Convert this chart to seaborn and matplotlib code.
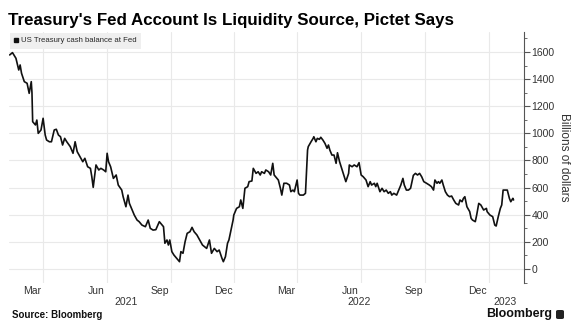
import matplotlib
matplotlib.use("Agg")
import matplotlib.pyplot as plt
import matplotlib.dates as mdates
from matplotlib.lines import Line2D
from matplotlib.patches import FancyBboxPatch
import matplotlib.transforms as mtransforms
import numpy as np
import pandas as pd
import seaborn as sns

# ---- data (US Treasury cash balance at Fed, billions of dollars) ----
dates = [
    "2021-01-12", "2021-01-16", "2021-01-18", "2021-01-21", "2021-01-25", "2021-01-27", "2021-01-29",
    "2021-02-02", "2021-02-06", "2021-02-09", "2021-02-12", "2021-02-13", "2021-02-14", "2021-02-18",
    "2021-02-20", "2021-02-22", "2021-02-26", "2021-03-01", "2021-03-04", "2021-03-06", "2021-03-10",
    "2021-03-13", "2021-03-17", "2021-03-20", "2021-03-23", "2021-03-26", "2021-03-29", "2021-04-01",
    "2021-04-04", "2021-04-09", "2021-04-13", "2021-04-16", "2021-04-19", "2021-04-23", "2021-04-27",
    "2021-04-30", "2021-05-04", "2021-05-08", "2021-05-10", "2021-05-12", "2021-05-16", "2021-05-20",
    "2021-05-23", "2021-05-27", "2021-05-30", "2021-06-01", "2021-06-03", "2021-06-06", "2021-06-10",
    "2021-06-14", "2021-06-17", "2021-06-22", "2021-06-24", "2021-06-28", "2021-07-01", "2021-07-03",
    "2021-07-06", "2021-07-10", "2021-07-14", "2021-07-17", "2021-07-21", "2021-07-26", "2021-07-30",
    "2021-08-02", "2021-08-06", "2021-08-10", "2021-08-15", "2021-08-19", "2021-08-21", "2021-08-23",
    "2021-08-26", "2021-08-28", "2021-08-30", "2021-09-02", "2021-09-05", "2021-09-09", "2021-09-13",
    "2021-09-15", "2021-09-18", "2021-09-21", "2021-09-24", "2021-09-28", "2021-10-01", "2021-10-04",
    "2021-10-08", "2021-10-12", "2021-10-16", "2021-10-22", "2021-10-26", "2021-10-29", "2021-11-02",
    "2021-11-06", "2021-11-09", "2021-11-13", "2021-11-15", "2021-11-18", "2021-11-21", "2021-11-23",
    "2021-11-26", "2021-11-29", "2021-11-30", "2021-12-04", "2021-12-08", "2021-12-10", "2021-12-13",
    "2021-12-16", "2021-12-20", "2021-12-22", "2021-12-26", "2021-12-28", "2022-01-01", "2022-01-04",
    "2022-01-07", "2022-01-09", "2022-01-13", "2022-01-15", "2022-01-19", "2022-01-22", "2022-01-25",
    "2022-01-27", "2022-01-31", "2022-02-02", "2022-02-05", "2022-02-07", "2022-02-10", "2022-02-14",
    "2022-02-18", "2022-02-20", "2022-02-23", "2022-02-25", "2022-03-01", "2022-03-03", "2022-03-05",
    "2022-03-10", "2022-03-13", "2022-03-16", "2022-03-17", "2022-03-21", "2022-03-24", "2022-03-25",
    "2022-03-28", "2022-03-30", "2022-04-02", "2022-04-04", "2022-04-07", "2022-04-10", "2022-04-13",
    "2022-04-15", "2022-04-17", "2022-04-20", "2022-04-23", "2022-04-26", "2022-04-28", "2022-05-01",
    "2022-05-04", "2022-05-07", "2022-05-10", "2022-05-14", "2022-05-15", "2022-05-19", "2022-05-22",
    "2022-05-26", "2022-05-29", "2022-06-01", "2022-06-04", "2022-06-08", "2022-06-11", "2022-06-14",
    "2022-06-16", "2022-06-20", "2022-06-22", "2022-06-24", "2022-06-28", "2022-07-01", "2022-07-04",
    "2022-07-07", "2022-07-10", "2022-07-13", "2022-07-15", "2022-07-18", "2022-07-22", "2022-07-24",
    "2022-07-28", "2022-07-31", "2022-08-02", "2022-08-05", "2022-08-08", "2022-08-11", "2022-08-15",
    "2022-08-18", "2022-08-21", "2022-08-24", "2022-08-27", "2022-08-30", "2022-09-03", "2022-09-07",
    "2022-09-10", "2022-09-13", "2022-09-15", "2022-09-18", "2022-09-20", "2022-09-22", "2022-09-25",
    "2022-09-27", "2022-09-30", "2022-10-03", "2022-10-06", "2022-10-09", "2022-10-12", "2022-10-15",
    "2022-10-19", "2022-10-21", "2022-10-24", "2022-10-26", "2022-10-28", "2022-10-31", "2022-11-04",
    "2022-11-06", "2022-11-08", "2022-11-12", "2022-11-14", "2022-11-17", "2022-11-20", "2022-11-24",
    "2022-11-28", "2022-11-29", "2022-12-03", "2022-12-07", "2022-12-10", "2022-12-12", "2022-12-15",
    "2022-12-18", "2022-12-20", "2022-12-22", "2022-12-25", "2022-12-28", "2022-12-31", "2023-01-02",
    "2023-01-05", "2023-01-06",
]
balance = [
    1578, 1595, 1578, 1553, 1467, 1504, 1443,
    1381, 1369, 1295, 1381, 1300, 1086, 1062,
    1098, 1000, 1025, 1111, 988, 951, 938,
    938, 1025, 1030, 988, 975, 914, 963,
    938, 902, 853, 938, 865, 828, 791,
    816, 754, 742, 680, 602, 767, 730,
    742, 730, 717, 853, 791, 754, 668,
    693, 619, 582, 533, 459, 545, 484,
    447, 398, 361, 349, 324, 312, 361,
    300, 287, 290, 349, 324, 312, 190,
    214, 177, 214, 128, 103, 79, 54,
    128, 116, 201, 263, 275, 307, 275,
    251, 214, 177, 152, 214, 116, 152,
    128, 140, 79, 54, 91, 190, 214,
    287, 361, 398, 447, 459, 509, 447,
    595, 607, 644, 649, 742, 705, 717,
    693, 717, 705, 730, 717, 693, 779,
    693, 668, 656, 595, 545, 632, 632,
    619, 570, 582, 570, 656, 558, 545,
    545, 558, 877, 902, 938, 963, 975,
    938, 963, 956, 971, 951, 926, 890,
    914, 877, 840, 840, 779, 857, 791,
    742, 693, 644, 705, 767, 754, 767,
    754, 784, 693, 680, 656, 607, 644,
    619, 632, 607, 632, 570, 595, 570,
    582, 558, 570, 545, 558, 545, 570,
    619, 668, 619, 582, 582, 595, 690,
    705, 693, 705, 680, 644, 632, 619,
    607, 582, 656, 632, 644, 632, 656,
    619, 570, 545, 533, 538, 509, 484,
    472, 509, 496, 521, 533, 459, 423,
    374, 361, 349, 398, 484, 472, 435,
    447, 423, 398, 386, 324, 317, 386,
    447, 472, 582, 582, 582, 521, 496,
    521, 509,
]
series_name = "US Treasury cash balance at Fed"
grid_months = ["2021-03-01", "2021-06-01", "2021-09-01", "2021-12-01",
               "2022-03-01", "2022-06-01", "2022-09-01", "2022-12-01"]
month_labels = ["Mar", "Jun", "Sep", "Dec", "Mar", "Jun", "Sep", "Dec"]
year_labels = ["2021", "2022", "2023"]
year_label_dates = ["2021-06-28", "2022-05-29", "2022-12-25"]
y_ticks = [0, 200, 400, 600, 800, 1000, 1200, 1400, 1600]

df = pd.DataFrame({"date": pd.to_datetime(dates), "value": balance})

# ---- style ----
sns.set_theme(style="white")
plt.rcParams["font.family"] = ["Liberation Sans", "DejaVu Sans"]

fig = plt.figure(figsize=(5.76, 3.33), dpi=100)
ax = fig.add_axes([9 / 576, 1 - 283 / 333, (524 - 9) / 576, (283 - 32) / 333])

sns.lineplot(data=df, x="date", y="value", ax=ax, color="#111111", linewidth=1.2, legend=False)

ax.set_xlim(pd.Timestamp("2021-01-11"), pd.Timestamp("2023-01-21"))
ax.set_ylim(-103, 1747)

# grid
grid_dates = pd.to_datetime(grid_months)
ax.set_xticks(mdates.date2num(grid_dates))
ax.set_xticklabels([])
ax.tick_params(axis="x", which="major", length=0)
label_dates = grid_dates - pd.Timedelta(days=16)
ax.set_xticks(mdates.date2num(label_dates), minor=True)
ax.set_xticklabels(month_labels, minor=True)
ax.tick_params(axis="x", which="minor", length=0, pad=2.5, labelsize=7.5, labelcolor="#333333")

ax.yaxis.tick_right()
ax.yaxis.set_label_position("right")
ax.set_yticks(y_ticks)
ax.set_yticks(np.arange(-100, 1701, 100), minor=True)
ax.tick_params(axis="y", which="major", length=4, width=0.8, color="#555555", pad=1.5,
               labelsize=7.5, labelcolor="#333333", right=True, left=False)
ax.tick_params(axis="y", which="minor", length=2, width=0.6, color="#555555", right=True, left=False)

ax.grid(True, which="major", axis="both", color="#e9e9e9", linewidth=0.8)
ax.set_axisbelow(True)

for s in ["left", "top", "bottom"]:
    ax.spines[s].set_visible(False)
ax.spines["right"].set_color("#555555")
ax.spines["right"].set_linewidth(0.8)

ax.set_xlabel("")
ax.set_ylabel("Billions of dollars", rotation=270, labelpad=11, fontsize=8.5, color="#333333")

# year labels
trans = mtransforms.blended_transform_factory(ax.transData, ax.transAxes)
for lab, d in zip(year_labels, year_label_dates):
    ax.text(mdates.date2num(pd.Timestamp(d)), -0.055, lab, transform=trans, ha="center", va="top",
            fontsize=7.5, color="#333333")

# legend
handle = Line2D([], [], marker="s", color="#111111", linestyle="none", markersize=3.3)
leg = ax.legend([handle], [series_name], loc="upper left", bbox_to_anchor=(0, 1), frameon=True,
                facecolor="#efefef", edgecolor="none", fontsize=5.6, handlelength=0.6,
                handletextpad=0.35, borderpad=0.55, borderaxespad=0.1, fancybox=False)
leg.get_frame().set_alpha(1)

# title and footer
fig.text(8 / 576, 1 - 20 / 333, "Treasury's Fed Account Is Liquidity Source, Pictet Says",
         ha="left", va="center", fontsize=12.2, fontweight="bold", color="#000000")
fig.text(12 / 576, 1 - 315 / 333, "Source: Bloomberg", ha="left", va="center",
         fontsize=7, fontweight="bold", color="#111111")
fig.text(552 / 576, 1 - 314 / 333, "Bloomberg", ha="right", va="center",
         fontsize=9, fontweight="bold", color="#111111")
icon = FancyBboxPatch((556 / 576, 1 - 319 / 333), 8 / 576, 9 / 333, transform=fig.transFigure,
                      boxstyle="round,pad=0,rounding_size=0.004", facecolor="#222222",
                      edgecolor="none")
fig.patches.append(icon)

fig.savefig("out.png", dpi=100)
